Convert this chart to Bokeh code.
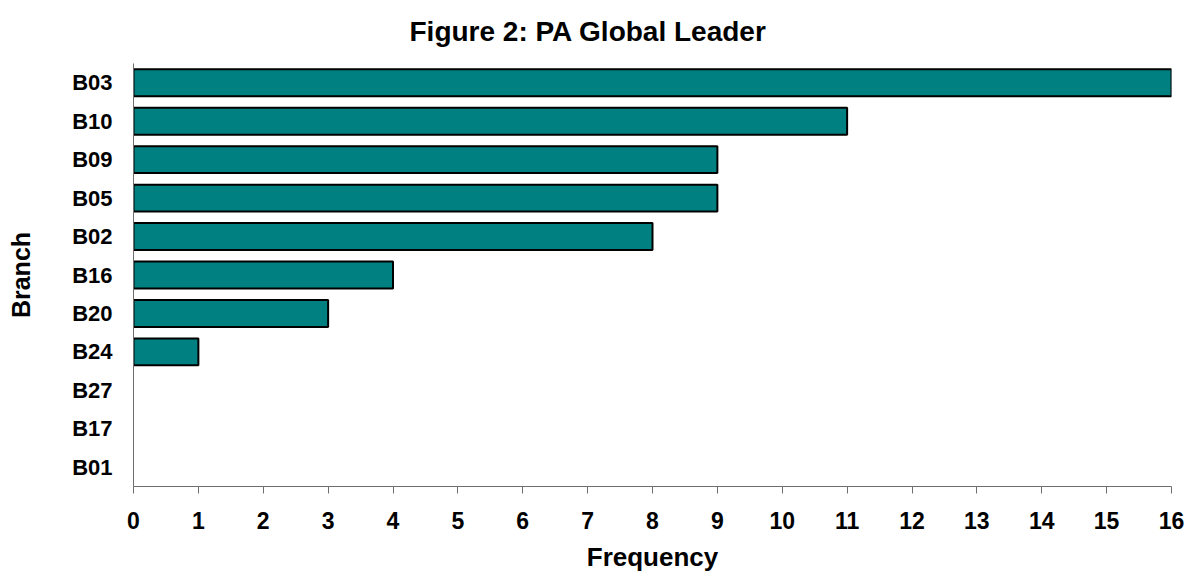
from bokeh.plotting import figure
from bokeh.models import Range1d, FactorRange, FixedTicker, ColumnDataSource, CDSView, BooleanFilter
from bokeh.embed import file_html
from bokeh.resources import INLINE

# Frequency of each branch, listed from top to bottom
branches = ["B03", "B10", "B09", "B05", "B02", "B16", "B20", "B24", "B27", "B17", "B01"]
frequency = [16, 11, 9, 9, 8, 4, 3, 1, 0, 0, 0]
x_ticks = list(range(0, 17))

FONT = "Liberation Sans"

source = ColumnDataSource(data=dict(branch=branches, freq=frequency))
# branches with no counts get no bar outline
nonzero = CDSView(filter=BooleanFilter([f > 0 for f in frequency]))

p = figure(
    width=1192, height=580,
    y_range=FactorRange(factors=branches[::-1], range_padding=0),
    x_range=Range1d(0, 16),
    output_backend="svg", toolbar_location=None,
    min_border_left=133, min_border_right=21,
    min_border_top=63, min_border_bottom=94,
    title="Figure 2: PA Global Leader",
)

p.hbar(y="branch", right="freq", left=0, height=0.7, source=source, view=nonzero,
       fill_color="#008080", line_color="black", line_width=2)

# title
p.title.text_font = FONT
p.title.text_font_size = "28px"
p.title.text_font_style = "bold"
p.title.text_color = "black"
p.title.align = "left"
p.title.vertical_align = "top"
p.title.offset = 276
p.title.standoff = 29

# frame
p.outline_line_color = None
p.xgrid.grid_line_color = None
p.ygrid.grid_line_color = None
p.background_fill_color = "white"
p.border_fill_color = "white"

# x axis
xa = p.xaxis[0]
xa.ticker = FixedTicker(ticks=x_ticks)
xa.axis_label = "Frequency"
xa.axis_label_text_font = FONT
xa.axis_label_text_font_size = "26px"
xa.axis_label_text_font_style = "bold"
xa.axis_label_text_color = "black"
xa.axis_label_standoff = 10
xa.major_label_text_font = FONT
xa.major_label_text_font_size = "23px"
xa.major_label_text_font_style = "bold"
xa.major_label_text_color = "black"
xa.major_label_standoff = 18
xa.axis_line_color = "#6e6e6e"
xa.major_tick_line_color = "#6e6e6e"
xa.major_tick_out = 7
xa.major_tick_in = 0
xa.minor_tick_line_color = None

# y axis
ya = p.yaxis[0]
ya.axis_label = "Branch"
ya.axis_label_text_font = FONT
ya.axis_label_text_font_size = "25px"
ya.axis_label_text_font_style = "bold"
ya.axis_label_text_color = "black"
ya.axis_label_standoff = 34
ya.major_label_text_font = FONT
ya.major_label_text_font_size = "22px"
ya.major_label_text_font_style = "bold"
ya.major_label_text_color = "black"
ya.major_label_standoff = 21
ya.axis_line_color = "#6e6e6e"
ya.major_tick_line_color = None
ya.major_tick_out = 0
ya.major_tick_in = 0

open("out.html", "w").write(file_html(p, INLINE))
